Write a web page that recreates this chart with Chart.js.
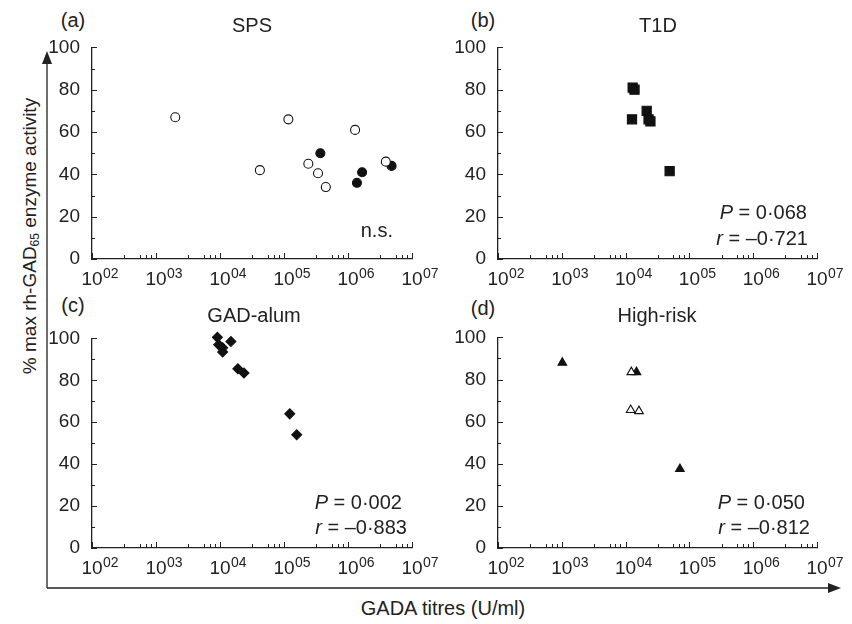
<!DOCTYPE html>
<html>
<head>
<meta charset="utf-8">
<script src="https://cdn.jsdelivr.net/npm/chart.js@4.4.0/dist/chart.umd.min.js"></script>
<style>
  body { margin: 0; background: #fff; }
  #wrap { position: relative; width: 852px; height: 624px; overflow: hidden; font-family: "Liberation Sans", Arial, sans-serif; color: #222; }
  canvas { position: absolute; }
  .txt { position: absolute; font-size: 20px; line-height: 20px; white-space: nowrap; }
  .ctr { transform: translate(-50%, -50%); }
  .r { text-align: right; }
  svg { position: absolute; left: 0; top: 0; }
</style>
</head>
<body>
<div id="wrap">
  <svg width="852" height="624">
    <path d="M47 588 L47 62 M47 588 L830 588" stroke="#222" stroke-width="1.3" fill="none"/>
    <path d="M47 51 L42 64 L52 64 Z" fill="#222"/>
    <path d="M841 588 L828 583 L828 593 Z" fill="#222"/>
  </svg>
  <canvas id="cA"></canvas>
  <canvas id="cB"></canvas>
  <canvas id="cC"></canvas>
  <canvas id="cD"></canvas>

  <div class="txt ctr" style="left:73px;top:20px">(a)</div>
  <div class="txt ctr" style="left:483px;top:20px">(b)</div>
  <div class="txt ctr" style="left:73px;top:305px">(c)</div>
  <div class="txt ctr" style="left:483px;top:308px">(d)</div>

  <div class="txt ctr" style="left:252px;top:25px">SPS</div>
  <div class="txt ctr" style="left:658px;top:25px">T1D</div>
  <div class="txt ctr" style="left:254px;top:315px">GAD-alum</div>
  <div class="txt ctr" style="left:657px;top:315px">High-risk</div>

  <div class="txt r" style="right:459px;top:220px">n.s.</div>
  <div class="txt r" style="right:45px;top:202px"><i>P</i> = 0·068</div>
  <div class="txt r" style="right:44px;top:228px"><i>r</i> = –0·721</div>
  <div class="txt r" style="right:450px;top:492px"><i>P</i> = 0·002</div>
  <div class="txt r" style="right:445px;top:517px"><i>r</i> = –0·883</div>
  <div class="txt r" style="right:47px;top:492px"><i>P</i> = 0·050</div>
  <div class="txt r" style="right:42px;top:517px"><i>r</i> = –0·812</div>

  <div class="txt ctr" style="left:443px;top:608px">GADA titres (U/ml)</div>
  <div class="txt ctr" style="left:32px;top:236px;transform:translate(-50%,-50%) rotate(-90deg);font-size:19px">% max rh-GAD<sub style="font-size:12px;vertical-align:-3px">65</sub> enzyme activity</div>
</div>

<script>
// x ticks (decades) and minor tick mantissas as drawn in the figure
const decades = [2, 3, 4, 5, 6, 7];
const minorMantissas = [3.2, 5.6, 6.9, 8.3];
const yMajor = [0, 20, 40, 60, 80, 100];
const yMinor = [10, 30, 50, 70, 90];

// (a) SPS
const spsOpenX = [2000, 42000, 117000, 240000, 340000, 450000, 1290000, 3900000];
const spsOpenY = [67, 42, 66, 45, 40.5, 34, 61, 46];
const spsFillX = [370000, 1380000, 1660000, 4800000];
const spsFillY = [50, 36, 41, 44];

// (b) T1D
const t1dX = [12900, 13800, 12600, 21400, 22900, 24500, 49000];
const t1dY = [81, 80, 66, 70, 66, 65, 41.5];

// (c) GAD-alum
const alumX = [9100, 9550, 11000, 11000, 14800, 19000, 23700, 123000, 158000];
const alumY = [100.5, 97, 95.5, 93.5, 98.5, 85.5, 83.5, 64, 54];

// (d) High-risk
const hrFillX = [1020, 14800, 71000];
const hrFillY = [88, 83.5, 37.5];
const hrOpenX = [12300, 12000, 16200];
const hrOpenY = [83.5, 65.5, 65];

const INK = '#222';
const FONT = '"Liberation Sans", Arial, sans-serif';

function pts(xs, ys) {
    return xs.map((x, i) => ({ x: x, y: ys[i] }));
}

const tickPlugin = {
    id: 'tickPlugin',
    afterDraw(chart) {
        const ctx = chart.ctx;
        const xs = chart.scales.x;
        const ys = chart.scales.y;
        const a = chart.chartArea;
        ctx.save();
        ctx.strokeStyle = INK;
        ctx.lineWidth = 1;
        ctx.beginPath();
        decades.forEach(e => {
            const px = Math.round(xs.getPixelForValue(Math.pow(10, e))) + 0.5;
            ctx.moveTo(px, a.bottom);
            ctx.lineTo(px, a.bottom - 6);
            if (e < 7) {
                minorMantissas.forEach(m => {
                    const p = Math.round(xs.getPixelForValue(m * Math.pow(10, e))) + 0.5;
                    ctx.moveTo(p, a.bottom);
                    ctx.lineTo(p, a.bottom - 4);
                });
            }
        });
        yMajor.forEach(v => {
            const py = Math.round(ys.getPixelForValue(v)) + 0.5;
            ctx.moveTo(a.left, py);
            ctx.lineTo(a.left + 5, py);
        });
        yMinor.forEach(v => {
            const py = Math.round(ys.getPixelForValue(v)) + 0.5;
            ctx.moveTo(a.left, py);
            ctx.lineTo(a.left + 3, py);
        });
        ctx.stroke();

        ctx.fillStyle = INK;
        ctx.textAlign = 'left';
        ctx.textBaseline = 'alphabetic';
        decades.forEach(e => {
            const px = xs.getPixelForValue(Math.pow(10, e));
            ctx.font = '19px ' + FONT;
            const w = ctx.measureText('10').width;
            ctx.fillText('10', px - w / 2, a.bottom + 26);
            ctx.font = '14px ' + FONT;
            ctx.fillText('0' + e, px + w / 2 + 0.5, a.bottom + 19);
        });
        ctx.restore();
    }
};

function makePanel(id, box, datasets) {
    const cv = document.getElementById(id);
    const padTop = 14, padRight = 32, yW = 45, xH = 30;
    cv.width = (box.R - box.L) + yW + padRight;
    cv.height = (box.B - box.T) + padTop + xH;
    cv.style.left = (box.L - yW) + 'px';
    cv.style.top = (box.T - padTop) + 'px';

    return new Chart(cv.getContext('2d'), {
        type: 'scatter',
        data: { datasets: datasets },
        options: {
            responsive: false,
            animation: false,
            devicePixelRatio: 1,
            layout: { padding: { top: padTop, right: padRight, left: 0, bottom: 0 } },
            plugins: { legend: { display: false }, tooltip: { enabled: false } },
            scales: {
                x: {
                    type: 'logarithmic',
                    min: 100,
                    max: 1e7,
                    grid: { display: false },
                    border: { display: true, color: INK, width: 1.3 },
                    ticks: { display: false },
                    afterFit(s) { s.height = xH; }
                },
                y: {
                    min: 0,
                    max: 100,
                    grid: { display: false },
                    border: { display: true, color: INK, width: 1.3 },
                    ticks: { stepSize: 20, padding: 4, color: INK, font: { family: FONT, size: 19 } },
                    afterFit(s) { s.width = yW; }
                }
            }
        },
        plugins: [tickPlugin]
    });
}

function ds(data, style, radius, fill) {
    return {
        data: data,
        pointStyle: style,
        pointRadius: radius,
        pointHoverRadius: radius,
        backgroundColor: fill,
        borderColor: '#111',
        borderWidth: 1.1,
        clip: false
    };
}

makePanel('cA', { L: 92, R: 412, T: 46, B: 259 }, [
    ds(pts(spsOpenX, spsOpenY), 'circle', 4.5, '#fff'),
    ds(pts(spsFillX, spsFillY), 'circle', 4.5, '#111')
]);
makePanel('cB', { L: 498, R: 817, T: 46, B: 259 }, [
    ds(pts(t1dX, t1dY), 'rect', 6.5, '#111')
]);
makePanel('cC', { L: 92, R: 412, T: 337, B: 548 }, [
    ds(pts(alumX, alumY), 'rectRot', 5, '#111')
]);
makePanel('cD', { L: 498, R: 817, T: 336, B: 548 }, [
    ds(pts(hrOpenX, hrOpenY), 'triangle', 5, '#fff'),
    ds(pts(hrFillX, hrFillY), 'triangle', 5, '#111')
]);
</script>
</body>
</html>
